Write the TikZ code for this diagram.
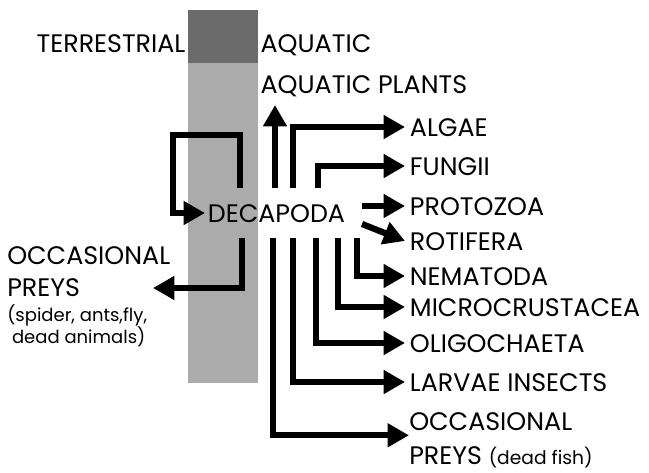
\documentclass[tikz,border=0pt]{standalone}
\usepackage{fontspec}
\setmainfont{Poppins}
\usetikzlibrary{arrows.meta}

\begin{document}
\begin{tikzpicture}[x=0.75pt, y=-0.75pt,
    lbl/.style={inner ysep=0pt, inner xsep=1pt, font=\fontsize{19}{24}\selectfont, text height=13.5pt, text depth=0pt},
    tag/.style={lbl, anchor=west, inner xsep=3.5pt},
    multi/.style={inner sep=0pt, align=left, anchor=north west},
    small/.style={font=\fontsize{13.5}{17}\selectfont},
    arr/.style={-{Triangle[length=16pt,width=17pt]}, line width=4.7pt}
]
\useasboundingbox (0,0) rectangle (649,472);

% water/land column
\fill[black!33] (188,63) rectangle (258,383);
\fill[black!58] (188,10) rectangle (258,63);

\node[lbl, anchor=east] (terr) at (187,43) {TERRESTRIAL};
\node[lbl, anchor=west] (aqua) at (259,43) {AQUATIC};
\node[lbl, anchor=west] (plants) at (259,84) {AQUATIC PLANTS};
\node[lbl, anchor=west, inner xsep=2pt] (dec) at (205,213) {DECAPODA};

% prey items
\node[tag] (algae) at (405,127) {ALGAE};
\node[tag] (fungi) at (405,166) {FUNGII};
\node[tag] (proto) at (405,206) {PROTOZOA};
\node[tag] (roti) at (405,241) {ROTIFERA};
\node[tag] (nema) at (405,276) {NEMATODA};
\node[tag] (micro) at (405,307) {MICROCRUSTACEA};
\node[tag] (oligo) at (405,343) {OLIGOCHAETA};
\node[tag] (larvae) at (405,382) {LARVAE INSECTS};
\node[multi, font=\fontsize{19}{25.5}\selectfont] (oprey) at (409,412)
    {OCCASIONAL\\PREYS {\fontsize{14}{17}\selectfont (dead fish)}};

\node[multi, font=\fontsize{19}{24}\selectfont] (lprey) at (7,246) {OCCASIONAL\\PREYS};
\node[multi, small] (lnote) at (7,304) {(spider, ants,fly,\\\ dead animals)};

\coordinate (loopS) at (240,188);
\coordinate (loopC) at (173,135);
\coordinate (leftS) at (242,238);
\coordinate (ltip) at (153,288);
\coordinate (upS) at (275,188);
\coordinate (upT) at (275,105);
\coordinate (algS) at (293,188);
\coordinate (funS) at (318,188);
\coordinate (proS) at (362,206);
\coordinate (rotS) at (362,224);
\coordinate (occS) at (273,238);

\draw[arr] (loopS) |- (loopC) |- (dec.west);
\draw[arr] (leftS) |- (ltip);
\draw[arr] (upS) -- (upT);
\draw[arr] (algS) |- (algae.west);
\draw[arr] (funS) |- (fungi.west);
\draw[arr] (proS) -- (proto.west);
\draw[arr] (rotS) -- (roti.west);
\foreach \x/\t in {357/nema, 338/micro, 316/oligo, 293/larvae}{
  \coordinate (\t S) at (\x,238);
  \draw[arr] (\t S) |- (\t.west);
}
\draw[arr] (occS) |- ([yshift=3.5pt]oprey.west);
\end{tikzpicture}
\end{document}
